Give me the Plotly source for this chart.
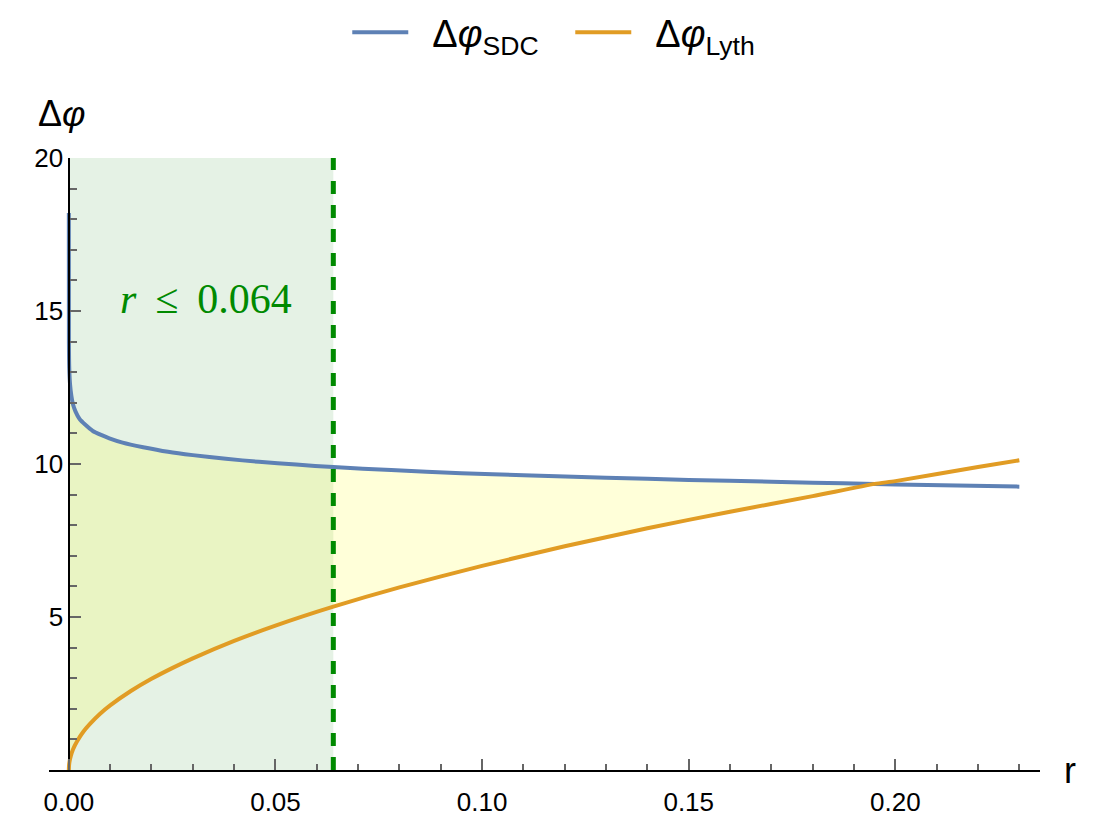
import plotly.graph_objects as go

# ---- data ----
r_sdc = [0.0, 0.00002, 0.0001, 0.0003, 0.0006, 0.001, 0.0016, 0.0026, 0.004,
         0.0058, 0.0078, 0.0098, 0.013, 0.018, 0.024, 0.03, 0.038, 0.046,
         0.055, 0.064, 0.078, 0.095, 0.11, 0.13, 0.15, 0.17, 0.18, 0.195,
         0.2, 0.215, 0.23]
phi_sdc = [18.2, 13.94, 13.13, 12.59, 12.24, 11.95, 11.72, 11.47, 11.28,
           11.08, 10.95, 10.84, 10.7, 10.55, 10.4, 10.29, 10.17, 10.07,
           9.98, 9.9, 9.8, 9.7, 9.63, 9.55, 9.48, 9.42, 9.39, 9.35,
           9.33, 9.3, 9.26]

r_lyth = [0.0, 0.00005, 0.0002, 0.0005, 0.001, 0.002, 0.0035, 0.005, 0.0075,
          0.01, 0.015, 0.02, 0.025, 0.03, 0.04, 0.05, 0.064, 0.08, 0.1,
          0.12, 0.14, 0.16, 0.18, 0.195, 0.2, 0.22, 0.23]
phi_lyth = [0.0, 0.15, 0.3, 0.47, 0.67, 0.94, 1.25, 1.49, 1.83,
            2.11, 2.58, 2.98, 3.33, 3.65, 4.22, 4.72, 5.34, 5.97, 6.67,
            7.31, 7.9, 8.44, 8.95, 9.35, 9.44, 9.9, 10.12]

r_cross = 0.195          # where the two curves meet
r_bound = 0.064          # r <= 0.064 bound
x_ticks = [0.0, 0.05, 0.10, 0.15, 0.20]
x_tick_text = ["0.00", "0.05", "0.10", "0.15", "0.20"]
y_ticks = [5, 10, 15, 20]
y_tick_text = ["5", "10", "15", "20"]

BLUE = "#5E81B5"
ORANGE = "#E19C24"
GREEN = "#008A00"

# fill polygon between the curves where SDC > Lyth
poly_x = [x for x in r_sdc if x <= r_cross] + [x for x in r_lyth if x <= r_cross][::-1]
poly_y = [y for x, y in zip(r_sdc, phi_sdc) if x <= r_cross] + \
         [y for x, y in zip(r_lyth, phi_lyth) if x <= r_cross][::-1]

fig = go.Figure()
fig.add_trace(go.Scatter(x=poly_x, y=poly_y, mode="lines", fill="toself",
                         fillcolor="rgba(255,255,0,0.15)", line=dict(width=0),
                         showlegend=False, hoverinfo="skip"))
fig.add_trace(go.Scatter(x=r_sdc, y=phi_sdc, mode="lines",
                         line=dict(color=BLUE, width=4, shape="spline", smoothing=0.6),
                         name="\u2002Δ<i>φ</i><sub>SDC</sub>"))
fig.add_trace(go.Scatter(x=r_lyth, y=phi_lyth, mode="lines",
                         line=dict(color=ORANGE, width=4, shape="spline", smoothing=0.6),
                         name="\u2002Δ<i>φ</i><sub>Lyth</sub>"))

# shaded region r <= 0.064
fig.add_shape(type="rect", xref="x", yref="y", x0=0, x1=r_bound, y0=0, y1=20,
              fillcolor="rgba(0,128,0,0.10)", line=dict(width=0), layer="below")
# dashed bound line
fig.add_shape(type="line", xref="x", yref="y", x0=r_bound, x1=r_bound, y0=0, y1=20,
              line=dict(color=GREEN, width=5, dash="13px,11px"), layer="above")

fig.add_annotation(x=0.0333, y=15.4, xref="x", yref="y",
                   text="<i>r</i>\u2009 ≤ \u20090.064", showarrow=False,
                   xanchor="center", yanchor="middle",
                   font=dict(family="Liberation Serif", size=42, color=GREEN))
fig.add_annotation(x=0.013, y=1.073, xref="paper", yref="paper",
                   text="Δ<i>φ</i>", showarrow=False, xanchor="center", yanchor="middle",
                   font=dict(family="Liberation Sans", size=36, color="black"))
fig.add_annotation(x=1.03, y=0.0, xref="paper", yref="paper",
                   text="r", showarrow=False, xanchor="center", yanchor="middle",
                   font=dict(family="Liberation Sans", size=36, color="black"))

fig.update_layout(
    width=1097, height=831,
    margin=dict(l=49, r=57, t=158, b=61, autoexpand=False),
    paper_bgcolor="white", plot_bgcolor="white",
    font=dict(family="Liberation Sans", size=26, color="black"),
    legend=dict(orientation="h", x=0.526, xanchor="center", y=1.205, yanchor="middle",
                font=dict(size=38), itemwidth=56, entrywidth=152,
                entrywidthmode="pixels", bgcolor="rgba(0,0,0,0)"),
    xaxis=dict(range=[-0.0048, 0.235], showgrid=False, zeroline=False,
               showline=True, linecolor="black", linewidth=2,
               tickmode="array", tickvals=x_ticks, ticktext=x_tick_text,
               ticks="inside", ticklen=11, tickwidth=1.5, tickcolor="#666",
               ticklabelstandoff=8,
               minor=dict(dtick=0.01, tick0=0, ticks="inside", ticklen=6,
                          tickwidth=1.5, tickcolor="#666", showgrid=False),
               tickfont=dict(size=26)),
    yaxis=dict(range=[0, 20], showgrid=False, zeroline=False,
               anchor="free", position=0.0205,
               showline=True, linecolor="black", linewidth=2,
               tickmode="array", tickvals=y_ticks, ticktext=y_tick_text,
               ticks="inside", ticklen=11, tickwidth=1.5, tickcolor="#666",
               minor=dict(dtick=1, tick0=0, ticks="inside", ticklen=7,
                          tickwidth=1.5, tickcolor="#666", showgrid=False),
               tickfont=dict(size=26)),
)

fig.write_html("out.html")
